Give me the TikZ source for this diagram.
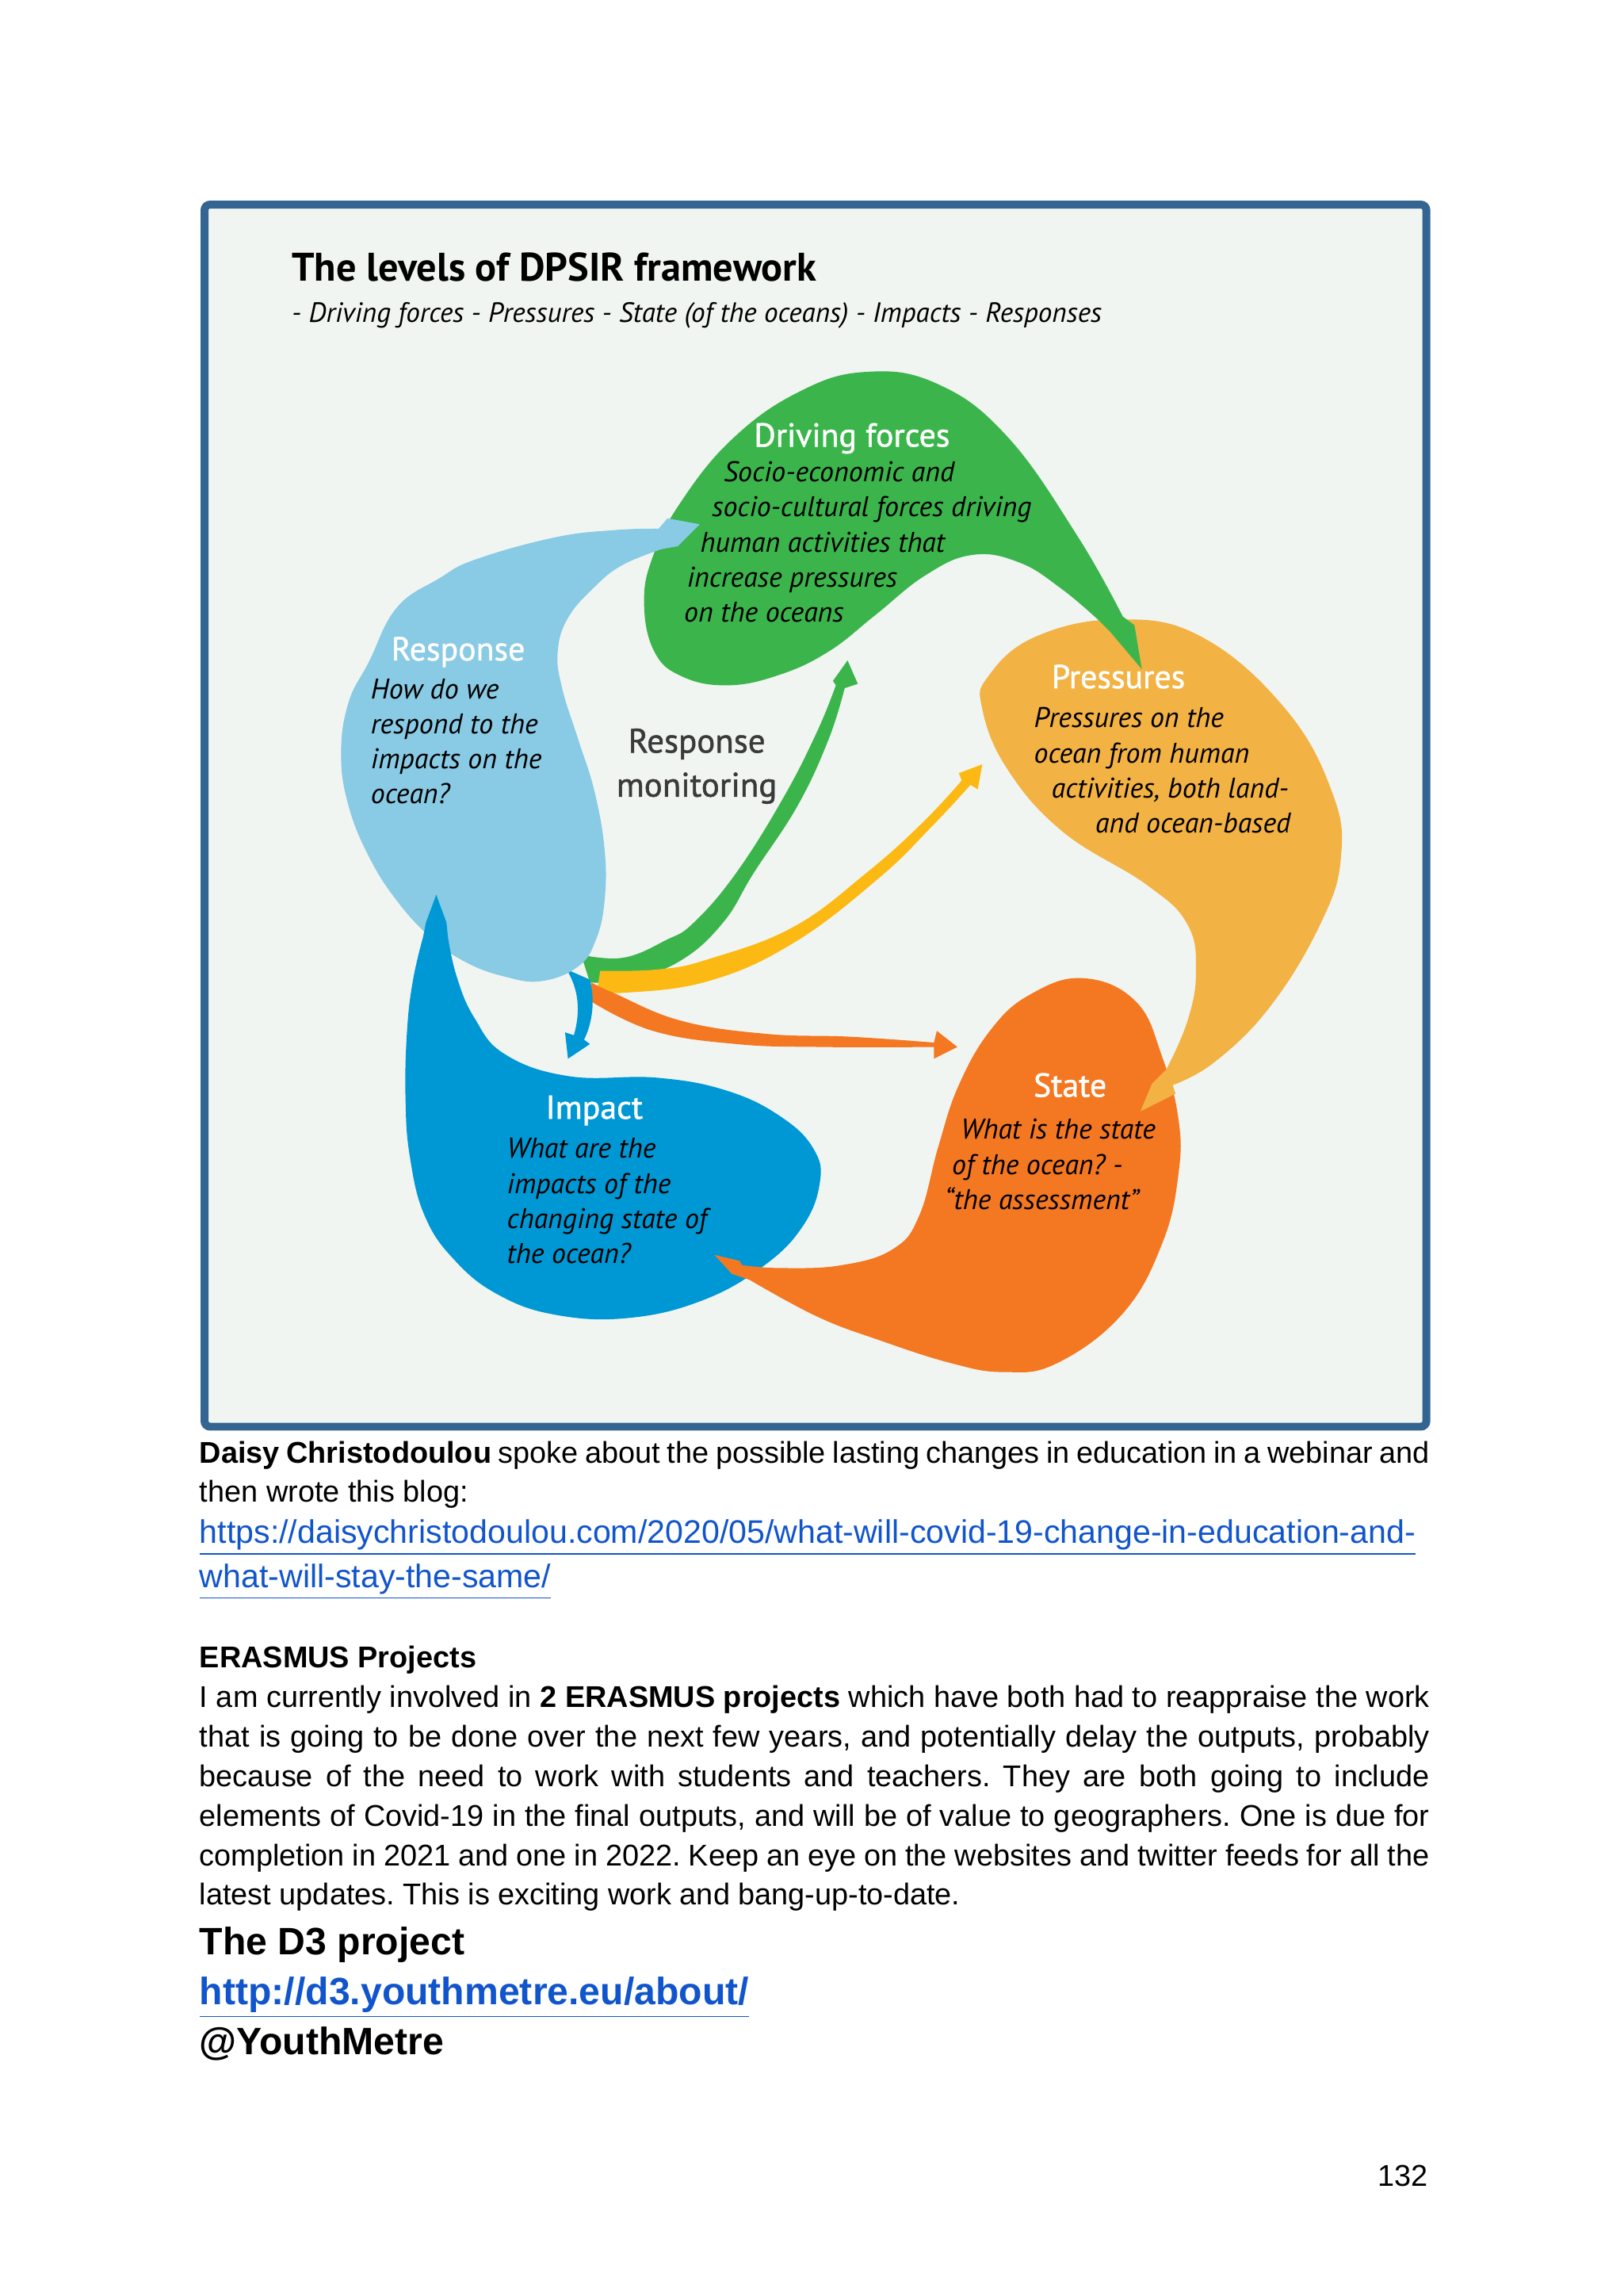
\documentclass[tikz,border=0pt]{standalone}
\usepackage{fontspec}
\setmainfont{Liberation Sans}
\newfontfamily\dpsirfont{PT Sans}
\newfontfamily\dpsirsemi[FakeBold=1.2]{PT Sans}
\frenchspacing

\definecolor{framebg}{RGB}{240,245,242}
\definecolor{frameline}{RGB}{52,101,145}
\definecolor{dfgreen}{RGB}{59,181,75}
\definecolor{respblue}{RGB}{137,202,228}
\definecolor{impactblue}{RGB}{0,152,212}
\definecolor{pressorange}{RGB}{243,178,68}
\definecolor{stateorange}{RGB}{244,120,34}
\definecolor{bandyellow}{RGB}{253,185,19}
\definecolor{linkblue}{RGB}{17,85,204}
\definecolor{monigray}{RGB}{58,58,58}

\begin{document}
\begin{tikzpicture}[x=0.018467cm, y=-0.018467cm,
    heading/.style={font=\dpsirsemi\fontsize{11.9}{13}\selectfont, text=white, anchor=base, inner sep=0pt},
    blurb/.style={font=\dpsirfont\itshape\fontsize{10.2}{12}\selectfont, anchor=base west, inner sep=0pt},
    bodyline/.style={font=\fontsize{10.77}{14.2}\selectfont, anchor=base west, inner sep=0pt},
    bigline/.style={font=\bfseries\fontsize{13.7}{16}\selectfont, anchor=base west, inner sep=0pt},
    weblink/.style={text=linkblue, font=\fontsize{11.7}{14.2}\selectfont}]
    % --- 1. Page and framed figure ---
    \path[use as bounding box, fill=white] (0,0) rectangle (1109,1568);
    \draw[frameline, line width=2.84pt, fill=framebg, rounded corners=2pt] (139.7,139.7) rectangle (974.4,974.3);

    \node[font=\dpsirfont\bfseries\fontsize{14.3}{16}\selectfont, anchor=base west, inner sep=0pt] (title) at (199,192) {The levels of DPSIR framework};
    \node[font=\dpsirfont\itshape\fontsize{10}{12}\selectfont, anchor=base west, inner sep=0pt] (subtitle) at (199,220) {- Driving forces - Pressures - State (of the oceans) - Impacts - Responses};

    % --- 2. Pressures (its head is drawn again at the end) ---
    \def\pressuresPath{(779,759) -- (803,747) -- plot[smooth, tension=0.7] coordinates {(801,741) (830,725) (868,687) (902,631) (916,586) (910,541) (878,484) (821,435) (764,423) (707,435) (675,462) (671,484) (688,525) (726,568) (783,604) (811,631) (817,664) (811,698) (797,730)} -- (787,740) -- cycle}
    \fill[pressorange] \pressuresPath;

    % --- 3. Driving forces ---
    \fill[dfgreen] (780,457) -- (775,427) -- plot[smooth, tension=0.7] coordinates {(767,421) (736,366) (688,298) (640,262) (591,254) (545,268) (500,300) (465,343) (446,380) (440,412) (447,445) (466,462) (497,468) (532,461) (566,445) (598,420) (632,393) (664,379) (696,384) (725,402) (751,424)} -- (758,431) -- cycle;

    % --- 4. Monitoring bands from the hub ---
    \fill[dfgreen] (579,451) -- (586,467) -- plot[smooth, tension=0.7] coordinates {(577,470) (566,505) (545,550) (515,596) (494,630) (465,656) (430,669) (403,671)} -- plot[smooth, tension=0.7] coordinates {(397,652) (426,654) (455,642) (474,630) (503,596) (535,545) (558,500) (571,468)} -- (569,465) -- cycle;
    \fill[bandyellow] (671,522) -- (668,539) -- plot[smooth, tension=0.7] coordinates {(663,536) (636,565) (600,600) (542,644) (484,670) (426,678) (408,676)} -- plot[smooth, tension=0.7] coordinates {(410,663) (450,662) (484,655) (542,633) (592,596) (630,562) (657,533)} -- (655,528) -- cycle;
    \fill[stateorange] (654,715) -- (638,723) -- plot[smooth, tension=0.7] coordinates {(638,715) (561,715) (503,713) (446,704) (404,684)} -- plot[smooth, tension=0.7] coordinates {(404,671) (419,678) (465,697) (523,706) (581,708) (638,712)} -- (640,704) -- cycle;
    \fill[impactblue] (388,723) -- (386,705) -- (392,707) .. controls (397,690) and (395,675) .. (387,662) -- (403,669) .. controls (407,685) and (404,700) .. (399,710) -- (403,713) -- cycle;

    % --- 5. Response ---
    \fill[respblue] (478,358) -- (463,373) -- plot[smooth, tension=0.7] coordinates {(452,375) (425,386) (406,401) (388,422) (381,445) (384,470) (395,505) (406,540) (413,580) (413,615) (407,642) (395,660) (370,670) (345,667) (318,657) (294,640) (271,615) (252,585) (238,550) (233,515) (238,480) (252,452) (271,415) (300,395) (325,382) (379,367) (420,362) (450,361)} -- (456,354) -- cycle;

    % --- 6. Impact ---
    \fill[impactblue] (298,611) -- (305,630) -- plot[smooth, tension=0.7] coordinates {(306,640) (312,667) (324,695) (345,720) (389,735) (449,736) (497,745) (534,763) (556,785) (560,808) (548,838) (521,865) (480,888) (430,900) (380,898) (340,884) (310,860) (290,830) (280,790) (277,750) (278,705) (282,670) (289,640)} -- (291,630) -- cycle;

    % --- 7. State ---
    \fill[stateorange] (488,857) -- (505,861) -- plot[smooth, tension=0.7] coordinates {(507,864) (534,866) (575,864) (610,853) (628,830) (641,783) (655,741) (677,703) (704,679) (740,668) (776,684) (794,722) (805,764) (805,802) (794,849) (767,897) (722,931) (686,937) (650,931) (600,915) (558,899) (512,874)} -- (500,870) -- cycle;

    % Pressures head lies over State
    \begin{scope}
        \clip (770,700) rectangle (845,768);
        \fill[pressorange] \pressuresPath;
    \end{scope}

    % --- 8. Labels ---
    \node[heading] (drvHead) at (582,305) {Driving forces};
    \node[heading] (rspHead) at (313,451) {Response};
    \node[heading] (preHead) at (764,470) {Pressures};
    \node[heading] (impHead) at (406,764) {Impact};
    \node[heading] (staHead) at (731,749) {State};
    \node[heading, text=monigray, font=\dpsirsemi\fontsize{12.2}{13}\selectfont] (monitorA) at (476,514) {Response};
    \node[heading, text=monigray, font=\dpsirsemi\fontsize{12.2}{13}\selectfont] (monitorB) at (476,544) {monitoring};

    \foreach \x/\y/\t [count=\i] in {494/329/{Socio-economic and}, 486/353/{socio-cultural forces driving}, 478/377/{human activities that}, 469/401/{increase pressures}, 467/425/{on the oceans}}
        \node[blurb] (drv\i) at (\x,\y) {\t};
    \foreach \x/\y/\t [count=\i] in {253/477/{How do we}, 253/501/{respond to the}, 253/525/{impacts on the}, 253/549/{ocean?}}
        \node[blurb] (rsp\i) at (\x,\y) {\t};
    \foreach \x/\y/\t [count=\i] in {706/497/{Pressures on the}, 706/521/{ocean from human}, 718/545/{activities, both land-}, 748/569/{and ocean-based}}
        \node[blurb] (pre\i) at (\x,\y) {\t};
    \foreach \x/\y/\t [count=\i] in {346/791/{What are the}, 346/815/{impacts of the}, 346/839/{changing state of}, 346/863/{the ocean?}}
        \node[blurb] (imp\i) at (\x,\y) {\t};
    \foreach \x/\y/\t [count=\i] in {656/778/{What is the state}, 650/802/{of the ocean? -}, 645/826/{“the assessment”}}
        \node[blurb] (sta\i) at (\x,\y) {\t};

    % --- 9. Page text ---
    \node[bodyline] (daisyA) at (136,999) {\makebox[441.4pt][s]{\textbf{Daisy Christodoulou} spoke about the possible lasting changes in education in a webinar and}};
    \node[bodyline] (daisyB) at (136,1026) {then wrote this blog:};
    \node[bodyline, weblink] (blogA) at (136,1054) {\underline{https://daisychristodoulou.com/2020/05/what-will-covid-19-change-in-education-and-}};
    \node[bodyline, weblink] (blogB) at (136,1084) {\underline{what-will-stay-the-same/}};

    \node[bodyline, font=\bfseries\fontsize{10.77}{14.2}\selectfont] (erasmus) at (136,1139) {ERASMUS Projects};
    \foreach \t [count=\i from 0] in {{I am currently involved in \textbf{2 ERASMUS projects} which have both had to reappraise the work}, {that is going to be done over the next few years, and potentially delay the outputs, probably}, {because of the need to work with students and teachers. They are both going to include}, {elements of Covid-19 in the final outputs, and will be of value to geographers. One is due for}, {completion in 2021 and one in 2022. Keep an eye on the websites and twitter feeds for all the}}
        \node[bodyline] (erasmus\i) at (136,{1166+27*\i}) {\makebox[441.4pt][s]{\t}};
    \node[bodyline] (erasmus5) at (136,1301) {latest updates. This is exciting work and bang-up-to-date.};

    \node[bigline] (d3Title) at (136,1335) {The D3 project};
    \node[bigline, text=linkblue] (d3Link) at (136,1369) {\underline{http://d3.youthmetre.eu/about/}};
    \node[bigline] (d3Handle) at (136,1403) {@YouthMetre};
    \node[bodyline, anchor=base east] (pageNo) at (976,1493) {132};
\end{tikzpicture}
\end{document}
